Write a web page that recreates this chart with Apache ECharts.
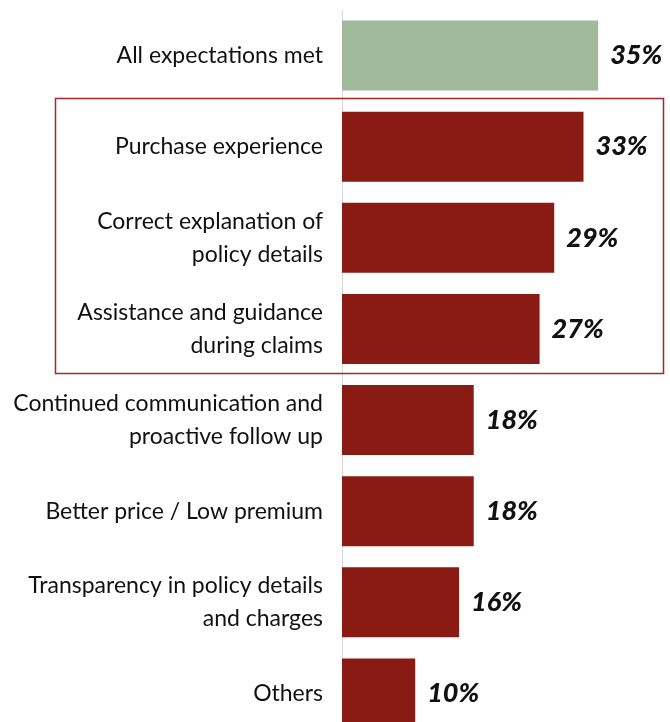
<!DOCTYPE html>
<html>
<head>
<meta charset="utf-8">
<script src="https://cdn.jsdelivr.net/npm/echarts@6/dist/echarts.min.js"></script>
<style>
  html, body { margin: 0; padding: 0; background: #ffffff; }
  #chart { width: 670px; height: 722px; }
</style>
</head>
<body>
<div id="chart"></div>
<script>
// Reasons customers gave (share of respondents, %)
const categories = [
  'All expectations met',
  'Purchase experience',
  'Correct explanation of\npolicy details',
  'Assistance and guidance\nduring claims',
  'Continued communication and\nproactive follow up',
  'Better price / Low premium',
  'Transparency in policy details\nand charges',
  'Others'
];
const values = [35, 33, 29, 27, 18, 18, 16, 10];
// Items grouped inside the highlight frame (first and last index)
const highlightRange = [1, 3];

const GREEN = '#a0b99b';
const RED = '#8a1a14';
const FONT = 'Lato';

const chart = echarts.init(document.getElementById('chart'), null, { renderer: 'canvas' });

chart.setOption({
  animation: false,
  backgroundColor: '#ffffff',
  grid: {
    left: 342, top: 10, right: 6, bottom: -17,
    containLabel: false, outerBoundsMode: 'none'
  },
  xAxis: {
    type: 'value', min: 0, max: 44,
    show: false
  },
  yAxis: {
    type: 'category', inverse: true, data: categories,
    axisLine: { show: true, lineStyle: { color: '#d9d9d9', width: 1 } },
    axisTick: { show: false },
    axisLabel: {
      margin: 19, color: '#111111', fontFamily: FONT, fontSize: 23,
      lineHeight: 33, align: 'right'
    }
  },
  series: [{
    type: 'bar',
    data: values.map((v, i) => ({
      value: v,
      itemStyle: { color: i === 0 ? GREEN : RED }
    })),
    barWidth: 70,
    label: {
      show: true, position: 'right', distance: 12,
      formatter: p => p.value + '%',
      color: '#111111', fontFamily: FONT, fontSize: 27,
      fontWeight: 900, fontStyle: 'italic'
    }
  }]
});

// Highlight frame spanning the bands of the grouped items
const c0 = chart.convertToPixel({ yAxisIndex: 0 }, categories[0]);
const c1 = chart.convertToPixel({ yAxisIndex: 0 }, categories[1]);
const band = c1 - c0;
const yTop = chart.convertToPixel({ yAxisIndex: 0 }, categories[highlightRange[0]]) - band / 2;
const yBot = chart.convertToPixel({ yAxisIndex: 0 }, categories[highlightRange[1]]) + band / 2;
chart.setOption({
  graphic: [{
    type: 'rect',
    shape: { x: 55.5, y: Math.round(yTop) - 2.5, width: 608, height: Math.round(yBot - yTop) + 2 },
    style: { fill: 'none', stroke: '#9e2a26', lineWidth: 1.5 },
    z: 10
  }]
});
</script>
</body>
</html>
